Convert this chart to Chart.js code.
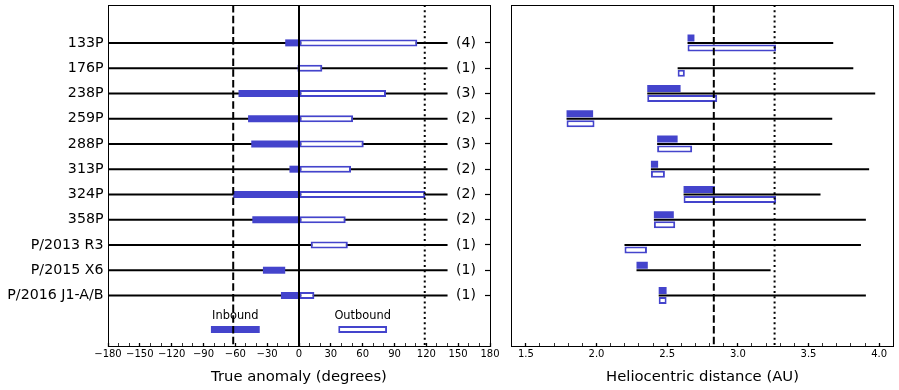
<!DOCTYPE html>
<html><head><meta charset="utf-8">
<script src="https://cdn.jsdelivr.net/npm/chart.js@4/dist/chart.umd.min.js"></script>
<style>
html,body{margin:0;padding:0;background:#fff;}
#wrap{position:relative;width:899px;height:390px;overflow:hidden;}
#c1{position:absolute;left:0;top:0;}
#c2{position:absolute;left:500px;top:0;}
</style></head><body>
<div id="wrap"><canvas id="c1" width="500" height="390"></canvas><canvas id="c2" width="399" height="390"></canvas></div>
<script>
// ---------- data ----------
const COMETS = ['133P','176P','238P','259P','288P','313P','324P','358P','P/2013 R3','P/2015 X6','P/2016 J1-A/B'];
const COUNTS = ['(4)','(1)','(3)','(2)','(3)','(2)','(2)','(2)','(1)','(1)','(1)'];

// True anomaly ranges (degrees)
const TA_INBOUND  = [[-13,0], null, [-57,0], [-48,0], [-45,0], [-9,0], [-62,0], [-44,0], null, [-34,-13], [-17,0]];
const TA_OUTBOUND = [[0,111.5], [-1.5,22], [0,82], [0,51], [0,61], [0,49], [0,119], [0,44], [11,46], null, [0,14.5]];
const TA_TRACK = [-180, 140];
const TA_DASHED = -62;
const TA_SOLID = 0;
const TA_DOTTED = 118.5;
const TA_MAJOR_TICKS = [-180,-150,-120,-90,-60,-30,0,30,60,90,120,150,180];
const TA_MINOR_STEP = 10;
const LEGEND_LABELS = ['Inbound','Outbound'];
const LEGEND_INBOUND = [-83,-37];
const LEGEND_OUTBOUND = [37,83];

// Heliocentric distance (AU)
const R_PERIHELION = [2.644, 2.574, 2.359, 1.788, 2.429, 2.385, 2.616, 2.406, 2.198, 2.283, 2.44];
const R_APHELION   = [3.675, 3.817, 3.972, 3.668, 3.668, 3.929, 3.585, 3.906, 3.871, 3.232, 3.906];
const R_INBOUND  = [[2.644,2.693], null, [2.359,2.595], [1.788,1.976], [2.429,2.574], [2.385,2.436], [2.616,2.838], [2.406,2.547], null, [2.283,2.363], [2.44,2.496]];
const R_OUTBOUND = [[2.644,3.27], [2.574,2.625], [2.359,2.854], [1.788,1.986], [2.429,2.677], [2.385,2.484], [2.616,3.271], [2.406,2.557], [2.198,2.357], null, [2.44,2.496]];
const R_DASHED = 2.83;
const R_DOTTED = 3.26;
const R_TICK_LABELS = ['1.5','2.0','2.5','3.0','3.5','4.0'];
const R_MIN = 1.4, R_MAX = 4.1;

// ---------- layout / style ----------
const Y_MIN = -1.5, Y_MAX = 12, LEGEND_ROW = 11.35, LEGEND_LABEL_ROW = 10.8;
const BLUE = '#4444cc';
const FONT = "'DejaVu Sans', sans-serif";
Chart.defaults.font.family = FONT;
Chart.defaults.color = '#000';

const rows = COMETS.map((_, i) => i);
const rowTicks = s => { s.ticks = rows.map(v => ({value: v})); };
const toBars = ranges => ranges.map((r, i) => r ? {y: i, x: r} : null).filter(Boolean);
const vline = (x, dash, yMin, yMax) => ({
  type: 'line', data: [{x: x, y: yMin}, {x: x, y: yMax}],
  borderColor: '#000', borderWidth: 2, borderDash: dash, pointRadius: 0, fill: false,
  xAxisID: 'x', yAxisID: 'y'
});
const fmtSigned = v => v < 0 ? '\u2212' + Math.abs(v) : String(v);
const DASH = [7.5, 3.2];
const DOT = [2, 3.2];
const noPad = s => { s.paddingTop = 0; s.paddingBottom = 0; s.paddingLeft = 0; s.paddingRight = 0; };
const fitTo = (dim, val) => s => { s[dim] = val; noPad(s); };

const spine = {display: true, color: '#000', width: 1};
const hiddenAxis = (pos, dim) => ({
  type: 'linear', position: pos, min: 0, max: 1, offset: false,
  ticks: {display: false}, grid: {drawOnChartArea: false, drawTicks: false, offset: false},
  border: spine,
  afterFit: fitTo(dim, 0)
});

// ---------- left chart ----------
const legendText = {
  id: 'legendText',
  afterDatasetsDraw(chart) {
    const {ctx, scales: {x, y}} = chart;
    ctx.save();
    ctx.font = "11.4px " + FONT;
    ctx.fillStyle = '#000';
    ctx.textAlign = 'center';
    ctx.textBaseline = 'middle';
    [LEGEND_INBOUND, LEGEND_OUTBOUND].forEach((r, k) => {
      ctx.fillText(LEGEND_LABELS[k], x.getPixelForValue((r[0] + r[1]) / 2), y.getPixelForValue(LEGEND_LABEL_ROW));
    });
    ctx.restore();
  }
};

const taTicks = [];
for (let v = TA_MAJOR_TICKS[0]; v <= TA_MAJOR_TICKS[TA_MAJOR_TICKS.length - 1]; v += TA_MINOR_STEP) taTicks.push(v);

new Chart(document.getElementById('c1'), {
  type: 'bar',
  data: {
    datasets: [
      vline(TA_DASHED, DASH, Y_MIN, Y_MAX),
      vline(TA_SOLID, [], Y_MIN, Y_MAX),
      vline(TA_DOTTED, DOT, Y_MIN, Y_MAX),
      {data: toBars(TA_INBOUND), backgroundColor: BLUE, borderWidth: 0, maxBarThickness: 7},
      {data: toBars(TA_OUTBOUND), backgroundColor: '#fff', borderColor: BLUE, borderWidth: 2, borderSkipped: false, maxBarThickness: 7},
      {data: [{y: LEGEND_ROW, x: LEGEND_INBOUND}], backgroundColor: BLUE, borderWidth: 0, maxBarThickness: 7},
      {data: [{y: LEGEND_ROW, x: LEGEND_OUTBOUND}], backgroundColor: '#fff', borderColor: BLUE, borderWidth: 2, borderSkipped: false, maxBarThickness: 7},
      {data: rows.map(i => ({y: i, x: TA_TRACK})), backgroundColor: '#000', borderWidth: 0, maxBarThickness: 2}
    ]
  },
  options: {
    indexAxis: 'y', responsive: false, animation: false, devicePixelRatio: 1,
    layout: {padding: {left: 0, right: 10, top: 5, bottom: 0}},
    datasets: {bar: {grouped: false, categoryPercentage: 1, barPercentage: 1, inflateAmount: 0}},
    plugins: {legend: {display: false}, tooltip: {enabled: false}},
    scales: {
      x: {
        type: 'linear', position: 'bottom', min: -180, max: 180, offset: false,
        afterBuildTicks: s => { s.ticks = taTicks.map(v => ({value: v})); },
        ticks: {autoSkip: false, maxRotation: 0, font: {size: 10}, padding: 5,
          callback: v => TA_MAJOR_TICKS.includes(v) ? fmtSigned(v) : ''},
        grid: {drawOnChartArea: false, offset: false, tickLength: -3, tickColor: '#000',
          tickWidth: c => TA_MAJOR_TICKS.includes(c.tick.value) ? 1.3 : 0.8},
        border: spine,
        title: {display: true, text: 'True anomaly (degrees)', font: {size: 14.8}, padding: {top: 0, bottom: 4}},
        afterFit: fitTo('height', 44)
      },
      xt: hiddenAxis('top', 'height'),
      y: {
        type: 'linear', position: 'left', min: Y_MIN, max: Y_MAX, reverse: true, offset: false,
        afterBuildTicks: rowTicks,
        ticks: {autoSkip: false, font: {size: 14.2}, padding: 4.5, callback: v => COMETS[v] ?? ''},
        grid: {drawOnChartArea: false, drawTicks: false, offset: false},
        border: spine,
        afterFit: fitTo('width', 108)
      },
      yc: {
        type: 'linear', position: 'right', min: Y_MIN, max: Y_MAX, reverse: true, offset: false,
        afterBuildTicks: rowTicks,
        ticks: {autoSkip: false, mirror: true, crossAlign: 'center', padding: -14.1, font: {size: 14}, callback: v => COUNTS[v] ?? ''},
        grid: {drawOnChartArea: false, offset: false, tickLength: -5, tickColor: '#000', tickWidth: 1.2},
        border: spine,
        afterFit: fitTo('width', 0)
      }
    }
  },
  plugins: [legendText]
});

// ---------- right chart ----------
const rTicks = [];
for (let k = Math.round(R_MIN * 10); k <= Math.round(R_MAX * 10); k++) rTicks.push(k / 10);
const rLabel = v => { const s = v.toFixed(1); return R_TICK_LABELS.includes(s) ? s : ''; };

new Chart(document.getElementById('c2'), {
  type: 'bar',
  data: {
    datasets: [
      vline(R_DASHED, DASH, Y_MIN, Y_MAX),
      vline(R_DOTTED, DOT, Y_MIN, Y_MAX),
      {data: toBars(R_INBOUND), backgroundColor: BLUE, borderWidth: 0, barPercentage: 1.4},
      {data: rows.map(i => ({y: i, x: [R_PERIHELION[i], R_APHELION[i]]})), backgroundColor: '#000', borderWidth: 0, barPercentage: 0.4},
      {data: toBars(R_OUTBOUND), backgroundColor: '#fff', borderColor: BLUE, borderWidth: 2, borderSkipped: false, barPercentage: 1.4}
    ]
  },
  options: {
    indexAxis: 'y', responsive: false, animation: false, devicePixelRatio: 1,
    layout: {padding: {left: 0, right: 5.7, top: 5, bottom: 0}},
    datasets: {bar: {grouped: true, categoryPercentage: 0.593, inflateAmount: 0}},
    plugins: {legend: {display: false}, tooltip: {enabled: false}},
    scales: {
      x: {
        type: 'linear', position: 'bottom', min: R_MIN, max: R_MAX, offset: false,
        afterBuildTicks: s => { s.ticks = rTicks.map(v => ({value: v})); },
        ticks: {autoSkip: false, maxRotation: 0, font: {size: 10}, padding: 5, callback: v => rLabel(v)},
        grid: {drawOnChartArea: false, offset: false, tickLength: -3, tickColor: '#000',
          tickWidth: c => rLabel(c.tick.value) ? 1.3 : 0.8},
        border: spine,
        title: {display: true, text: 'Heliocentric distance (AU)', font: {size: 14.8}, padding: {top: 0, bottom: 4}},
        afterFit: fitTo('height', 44)
      },
      xt: hiddenAxis('top', 'height'),
      y: {
        type: 'linear', position: 'left', min: Y_MIN, max: Y_MAX, reverse: true, offset: false,
        afterBuildTicks: rowTicks,
        ticks: {display: false},
        grid: {drawOnChartArea: false, drawTicks: false, offset: false},
        border: spine,
        afterFit: fitTo('width', 11.7)
      },
      yr: hiddenAxis('right', 'width')
    }
  }
});
</script>
</body></html>
